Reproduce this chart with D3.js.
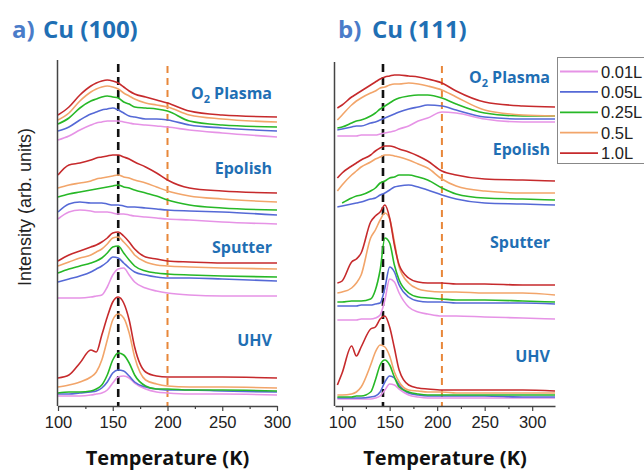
<!DOCTYPE html>
<html>
<head>
<meta charset="utf-8">
<script src="https://cdn.jsdelivr.net/npm/d3@7"></script>
<style>
  body { margin: 0; background: #fff; }
  svg { display: block; }
</style>
</head>
<body>
<svg id="chart" width="644" height="470"></svg>
<script>
// exposures (legend) and treatments
const doses = ['0.01L', '0.05L', '0.25L', '0.5L', '1.0L'];
const treatments = ['Plasma', 'Epolish', 'Sputter', 'UHV'];

// temperature grids (K)
const tempA = [100, 110, 120, 130, 135, 140, 145, 150, 155, 160, 165, 170, 180, 190, 200, 220, 250, 300];
const tempB = [95, 100, 110, 115, 120, 130, 135, 140, 145, 150, 155, 160, 170, 180, 190, 205, 220, 250, 290, 324];

// Cu(100) traces, order: 0.01L, 0.05L, 0.25L, 0.5L, 1.0L (offset intensities, arb. units)
const cu100Plasma = [
  [266, 270, 276, 281, 283, 284, 285, 285, 285, 284, 283, 282, 281, 280, 279, 276, 273, 269],
  [275, 279, 286, 292, 294, 296, 297, 298, 296, 293, 290, 289, 287, 287, 286, 281, 278, 275],
  [282, 288, 298, 305, 307, 309, 310, 309, 308, 304, 302, 299, 298, 297, 295, 285, 281, 279],
  [286, 293, 305, 314, 317, 319, 320, 319, 317, 313, 310, 307, 303, 301, 299, 291, 287, 284],
  [291, 299, 311, 320, 323, 325, 326, 325, 323, 319, 315, 312, 309, 306, 303, 295, 291, 289]
];
const cu100Epolish = [
  [187, 194, 196, 195, 194, 194, 194, 193, 192, 192, 191, 190, 189, 188, 187, 186, 184, 182],
  [194, 202, 204, 203, 203, 203, 202, 201, 201, 200, 199, 199, 198, 197, 196, 195, 194, 191],
  [209, 212, 214, 216, 217, 218, 219, 220, 221, 219, 218, 216, 213, 210, 206, 201, 198, 196],
  [218, 221, 223, 225, 227, 228, 229, 230, 231, 229, 228, 226, 223, 219, 215, 210, 207, 204],
  [231, 241, 243, 246, 248, 249, 250, 251, 251, 249, 247, 244, 239, 233, 226, 218, 215, 213]
];
const cu100Sputter = [
  [108, 108, 108, 109, 110, 111, 119, 131, 137, 138, 131, 124, 118, 115, 113, 111, 110, 110],
  [124, 127, 130, 134, 137, 140, 144, 149, 148, 143, 138, 134, 131, 129, 128, 128, 127, 125],
  [133, 137, 140, 143, 145, 148, 153, 159, 160, 153, 146, 140, 135, 133, 132, 131, 130, 129],
  [140, 144, 148, 151, 154, 157, 162, 168, 169, 164, 158, 151, 144, 141, 140, 139, 138, 137],
  [145, 151, 155, 159, 161, 164, 168, 173, 174, 170, 164, 157, 149, 147, 145, 144, 143, 143]
];
const cu100UHV = [
  [10, 10, 10, 11, 12, 13, 16, 23, 29, 30, 28, 23, 17, 14, 13, 12, 12, 11],
  [12, 12, 13, 14, 15, 18, 24, 33, 36, 35, 30, 24, 19, 17, 16, 16, 15, 14],
  [13, 14, 14, 15, 17, 21, 31, 46, 53, 51, 43, 31, 20, 17, 17, 16, 16, 15],
  [19, 21, 24, 29, 34, 46, 66, 86, 92, 88, 73, 49, 26, 22, 20, 19, 19, 18],
  [28, 31, 43, 56, 54, 71, 89, 104, 109, 103, 86, 59, 34, 30, 29, 29, 29, 28]
];

// Cu(111) traces
const cu111Plasma = [
  [270, 270, 270, 270, 271, 271, 271, 272, 273, 274, 275, 277, 280, 285, 288, 294, 293, 287, 284, 284],
  [276, 277, 279, 280, 280, 283, 284, 286, 288, 290, 292, 294, 297, 299, 301, 300, 296, 289, 287, 287],
  [278, 279, 283, 285, 286, 290, 293, 297, 300, 303, 306, 308, 310, 311, 311, 308, 302, 293, 290, 290],
  [286, 291, 301, 305, 308, 313, 315, 318, 319, 321, 322, 322, 323, 322, 320, 316, 309, 296, 291, 290],
  [298, 301, 309, 312, 315, 321, 324, 327, 329, 330, 331, 331, 330, 329, 327, 323, 315, 304, 300, 299]
];
const cu111Epolish = [
  null,
  [199, 200, 202, 203, 204, 207, 208, 211, 213, 216, 219, 220, 221, 219, 216, 211, 207, 203, 202, 201],
  [null, 203, 208, 210, 211, 215, 218, 223, 225, 228, 229, 231, 231, 229, 226, 218, 212, 208, 207, 206],
  [215, 221, 231, 235, 239, 244, 247, 249, 251, 251, 250, 249, 246, 242, 238, 227, 220, 215, 213, 213],
  [228, 233, 240, 243, 246, 251, 255, 258, 260, 260, 259, 257, 254, 250, 245, 235, 231, 227, 226, 225]
];
const cu111Sputter = [
  [86, 86, 86, 86, 87, 87, 88, 91, 106, 127, 124, 113, 99, 94, 92, 90, 90, 89, 88, 87],
  [100, 100, 100, 100, 101, 101, 102, 103, 118, 139, 134, 121, 109, 105, 104, 104, 103, 103, 103, 102],
  [104, 104, 105, 105, 105, 107, 116, 136, 168, 163, 141, 126, 113, 109, 108, 107, 106, 106, 105, 104],
  [113, 114, 118, 123, 131, 168, 176, 186, 193, 187, 164, 139, 123, 117, 115, 114, 114, 113, 113, 111],
  [123, 125, 144, 147, 153, 184, 190, 194, 201, 188, 161, 141, 128, 124, 123, 123, 122, 122, 121, 121]
];
const cu111UHV = [
  [7, 7, 7, 7, 7, 7, 8, 10, 16, 22, 21, 17, 11, 9, 8, 8, 8, 8, 8, 8],
  [8, 8, 8, 8, 8, 9, 10, 14, 24, 30, 28, 21, 13, 11, 10, 10, 10, 10, 9, 9],
  [9, 9, 9, 10, 10, 14, 26, 41, 46, 41, 29, 19, 14, 12, 11, 11, 11, 11, 11, 11],
  [11, 11, 12, 14, 19, 41, 54, 61, 59, 50, 34, 24, 16, 15, 14, 14, 13, 13, 13, 13],
  [21, 33, 60, 50, 59, 77, 79, 87, 90, 79, 58, 36, 21, 18, 17, 16, 16, 16, 16, 15]
];

const colors = ['#e693e6', '#5569d6', '#27b827', '#f2a56a', '#c62a2c'];
const titleBlue = '#1f6fb4';

const svg = d3.select('#chart');
const baseY = 406;

const y = d3.scaleLinear().domain([0, 346]).range([baseY, 60]);

const panels = [
  {
    temps: tempA, sets: [cu100Plasma, cu100Epolish, cu100Sputter, cu100UHV],
    range: [58, 277], domain: [100, 300], top: 60,
    minor: [125, 175, 225, 275], black: 155, orange: 200,
    labelX: 272, labelY: [99, 174, 253, 346],
    tag: 'a)', name: 'Cu (100)', tagX: 12, nameX: 43
  },
  {
    temps: tempB, sets: [cu111Plasma, cu111Epolish, cu111Sputter, cu111UHV],
    range: [335, 555], domain: [92.5, 324], top: 62,
    minor: [125, 175, 225, 275], black: 143, orange: 205,
    labelX: 550, labelY: [83, 155, 248, 362],
    tag: 'b)', name: 'Cu (111)', tagX: 338, nameX: 372
  }
];

panels.forEach(function (p) {
  const x = d3.scaleLinear().domain(p.domain).range(p.range);
  const g = svg.append('g');

  // reference temperatures
  g.append('line')
    .attr('x1', x(p.black)).attr('x2', x(p.black))
    .attr('y1', 64).attr('y2', baseY)
    .attr('stroke', '#111').attr('stroke-width', 2.6)
    .attr('stroke-dasharray', '8,5');
  g.append('line')
    .attr('x1', x(p.orange)).attr('x2', x(p.orange))
    .attr('y1', 66).attr('y2', baseY)
    .attr('stroke', '#e8873a').attr('stroke-width', 2)
    .attr('stroke-dasharray', '7,5');

  // traces
  const line = d3.line()
    .defined(d => d[1] != null)
    .x(d => x(d[0]))
    .y(d => y(d[1]))
    .curve(d3.curveMonotoneX);

  p.sets.forEach(function (set) {
    set.forEach(function (vals, i) {
      if (!vals) return;
      const pts = p.temps.map((t, k) => [t, vals[k]]);
      g.append('path')
        .datum(pts)
        .attr('d', line)
        .attr('fill', 'none')
        .attr('stroke', colors[i])
        .attr('stroke-width', 1.6)
        .attr('stroke-linejoin', 'round');
    });
  });

  // axes
  g.append('line')
    .attr('x1', p.range[0] - 0.5).attr('x2', p.range[0] - 0.5)
    .attr('y1', p.top).attr('y2', baseY)
    .attr('stroke', '#444').attr('stroke-width', 1.5);

  const xAxis = g.append('g')
    .attr('transform', `translate(0,${baseY})`)
    .call(d3.axisBottom(x).tickValues([100, 150, 200, 250, 300]).tickSize(5).tickSizeOuter(0).tickPadding(5));
  xAxis.select('.domain').attr('stroke', '#444').attr('stroke-width', 1.5);
  xAxis.selectAll('.tick line').attr('stroke', '#444').attr('stroke-width', 1.2);
  xAxis.selectAll('.tick text')
    .attr('font-family', 'Liberation Sans, Arial, sans-serif')
    .attr('font-size', '16.5px')
    .attr('fill', '#222');

  const minorAxis = g.append('g')
    .attr('transform', `translate(0,${baseY})`)
    .call(d3.axisBottom(x).tickValues(p.minor).tickSize(3).tickFormat(''));
  minorAxis.select('.domain').remove();
  minorAxis.selectAll('.tick line').attr('stroke', '#444').attr('stroke-width', 1.2);

  g.append('text')
    .attr('x', (p.range[0] + p.range[1]) / 2)
    .attr('y', 465)
    .attr('text-anchor', 'middle')
    .attr('font-family', 'Open Sans, sans-serif')
    .attr('font-weight', 'bold')
    .attr('font-size', '20px')
    .attr('fill', '#111')
    .text('Temperature (K)');

  // treatment labels
  treatments.forEach(function (name, i) {
    const t = g.append('text')
      .attr('x', p.labelX)
      .attr('y', p.labelY[i])
      .attr('text-anchor', 'end')
      .attr('font-family', 'Open Sans, sans-serif')
      .attr('font-weight', 'bold')
      .attr('font-size', '16px')
      .attr('fill', titleBlue);
    if (name === 'Plasma') {
      t.append('tspan').text('O');
      t.append('tspan').attr('font-size', '11px').attr('dy', 4).text('2');
      t.append('tspan').attr('dy', -4).text('\u00a0Plasma');
    } else {
      t.text(name);
    }
  });

  // panel title
  g.append('text')
    .attr('x', p.tagX).attr('y', 38)
    .attr('font-family', 'Open Sans, sans-serif')
    .attr('font-weight', 'bold')
    .attr('font-size', '24px')
    .attr('fill', '#4a7cc9')
    .text(p.tag);
  g.append('text')
    .attr('x', p.nameX).attr('y', 38)
    .attr('font-family', 'Open Sans, sans-serif')
    .attr('font-weight', 'bold')
    .attr('font-size', '24px')
    .attr('fill', titleBlue)
    .text(p.name);
});

// y label
svg.append('text')
  .attr('transform', 'translate(31,207) rotate(-90)')
  .attr('text-anchor', 'middle')
  .attr('font-family', 'Liberation Sans, Arial, sans-serif')
  .attr('font-size', '18px')
  .attr('fill', '#222')
  .text('Intensity (arb. units)');

// legend
const legend = svg.append('g');
legend.append('rect')
  .attr('x', 557.5).attr('y', 57.5)
  .attr('width', 100).attr('height', 106)
  .attr('fill', '#fff')
  .attr('stroke', '#888').attr('stroke-width', 1);
doses.forEach(function (d, i) {
  const yy = 71.5 + i * 20.4;
  legend.append('line')
    .attr('x1', 560).attr('x2', 598)
    .attr('y1', yy).attr('y2', yy)
    .attr('stroke', colors[i]).attr('stroke-width', 1.8);
  legend.append('text')
    .attr('x', 601).attr('y', yy + 6)
    .attr('font-family', 'Liberation Sans, Arial, sans-serif')
    .attr('font-size', '16.5px')
    .attr('fill', '#222')
    .text(d);
});
</script>
</body>
</html>
